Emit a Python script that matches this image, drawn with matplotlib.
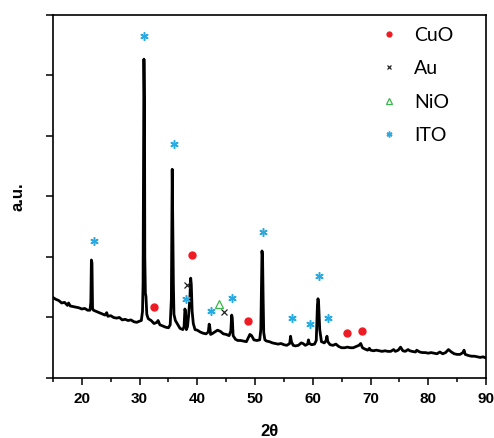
import matplotlib
matplotlib.use("Agg")
import matplotlib.pyplot as plt
from matplotlib.ticker import MultipleLocator

# XRD pattern (2theta in degrees, intensity in arbitrary units)
two_theta = [
    15.0, 15.5, 16.0, 16.5, 17.0, 17.5, 17.7, 18.0, 18.5, 19.0, 19.5, 20.0, 20.5, 21.0, 21.4,
    21.55, 21.65, 21.75, 21.85, 22.0, 22.5, 23.0, 23.5, 24.0, 24.3, 24.5, 25.0, 25.5, 26.0,
    26.5, 27.0, 27.5, 28.0, 28.5, 29.0, 29.5, 30.0, 30.3, 30.5, 30.6, 30.7, 30.75, 30.85,
    30.9, 31.0, 31.1, 31.25, 31.5, 32.0, 32.5, 33.0, 33.2, 33.5, 34.0, 34.5, 35.0, 35.3,
    35.5, 35.55, 35.65, 35.75, 35.85, 35.95, 36.2, 36.5, 37.0, 37.5, 37.7, 37.85, 37.95,
    38.1, 38.3, 38.5, 38.7, 38.85, 38.95, 39.1, 39.3, 39.6, 40.0, 40.5, 41.0, 41.5, 41.9,
    42.05, 42.15, 42.3, 42.7, 43.0, 43.5, 44.0, 44.5, 45.0, 45.5, 45.8, 45.95, 46.05, 46.2,
    46.6, 47.0, 47.5, 48.0, 48.5, 48.8, 49.1, 49.4, 49.8, 50.3, 50.8, 51.0, 51.1, 51.2,
    51.3, 51.4, 51.5, 51.7, 52.0, 52.5, 53.0, 53.5, 54.0, 54.5, 55.0, 55.5, 56.0, 56.15,
    56.3, 56.6, 57.0, 57.5, 58.0, 58.3, 58.7, 59.1, 59.25, 59.4, 59.8, 60.3, 60.6, 60.8,
    60.9, 61.0, 61.2, 61.5, 62.0, 62.3, 62.45, 62.6, 63.0, 63.5, 64.0, 64.5, 65.0, 65.5,
    66.0, 66.5, 67.0, 67.5, 68.0, 68.3, 68.6, 69.0, 69.5, 69.8, 70.0, 70.5, 71.0, 71.5,
    72.0, 72.5, 73.0, 73.5, 74.0, 74.3, 74.8, 75.2, 75.6, 76.0, 76.5, 76.8, 77.2, 77.8,
    78.0, 78.5, 79.0, 79.5, 80.0, 80.5, 81.0, 81.5, 82.0, 82.5, 83.0, 83.5, 84.0, 84.5,
    85.0, 85.5, 86.0, 86.2, 86.4, 87.0, 87.5, 88.0, 88.5, 89.0, 89.5, 90.0,
]
intensity = [
    1.33, 1.30, 1.28, 1.24, 1.25, 1.20, 1.24, 1.19, 1.18, 1.17, 1.16, 1.14, 1.15, 1.12, 1.12,
    1.25, 1.95, 1.90, 1.15, 1.12, 1.10, 1.08, 1.06, 1.04, 1.08, 1.02, 1.03, 1.00, 0.99,
    1.00, 0.96, 0.97, 0.95, 0.96, 0.93, 0.92, 0.94, 0.95, 1.10, 1.55, 4.00, 5.27, 4.50,
    2.00, 1.40, 1.35, 1.05, 0.98, 0.95, 0.90, 0.92, 0.95, 0.88, 0.86, 0.84, 0.83, 0.88,
    1.30, 2.00, 3.45, 2.40, 1.55, 1.05, 0.95, 0.90, 0.82, 0.80, 0.85, 1.14, 1.10,
    0.80, 0.85, 1.05, 1.30, 1.65, 1.55, 1.10, 0.90, 0.80, 0.79, 0.76, 0.74, 0.73, 0.76,
    0.89, 0.85, 0.72, 0.74, 0.76, 0.79, 0.77, 0.73, 0.72, 0.70, 0.78, 1.04, 1.00, 0.70,
    0.64, 0.62, 0.62, 0.61, 0.60, 0.66, 0.72, 0.70, 0.63, 0.62, 0.63, 0.80, 1.50, 2.10,
    2.00, 1.30, 0.75, 0.63, 0.61, 0.60, 0.58, 0.57, 0.56, 0.57, 0.55, 0.54, 0.57, 0.69,
    0.60, 0.54, 0.53, 0.54, 0.58, 0.57, 0.54, 0.56, 0.63, 0.57, 0.55, 0.56, 0.62, 1.20,
    1.31, 1.25, 0.80, 0.60, 0.58, 0.62, 0.69, 0.60, 0.55, 0.54, 0.56, 0.52, 0.50, 0.50,
    0.51, 0.50, 0.50, 0.52, 0.54, 0.57, 0.50, 0.48, 0.46, 0.49, 0.46, 0.45, 0.46, 0.45,
    0.44, 0.45, 0.44, 0.44, 0.47, 0.44, 0.46, 0.51, 0.45, 0.44, 0.47, 0.45, 0.44, 0.43,
    0.46, 0.43, 0.42, 0.42, 0.41, 0.42, 0.41, 0.40, 0.43, 0.40, 0.42, 0.47, 0.43, 0.40,
    0.39, 0.39, 0.42, 0.46, 0.39, 0.37, 0.36, 0.36, 0.35, 0.34, 0.35, 0.33,
]

# phase markers above the peaks
cuo_x = [32.5, 39.05, 48.85, 65.9, 68.6]
cuo_y = [1.18, 2.03, 0.95, 0.74, 0.77]
au_x = [38.2, 44.65]
au_y = [1.53, 1.09]
nio_x = [43.7]
nio_y = [1.23]
ito_x = [22.05, 30.8, 35.9, 38.0, 42.35, 46.05, 51.3, 56.35, 59.5, 61.1, 62.7]
ito_y = [2.27, 5.65, 3.86, 1.31, 1.10, 1.32, 2.41, 0.99, 0.90, 1.68, 0.99]

fig = plt.figure(figsize=(4.94, 4.38), dpi=100)
ax = fig.add_axes([0.1073, 0.137, 0.8765, 0.8288])

ax.plot(two_theta, intensity, color="black", lw=2.0, zorder=2)

ax.plot(cuo_x, cuo_y, "o", color="#ED1C24", ms=5, ls="none", label="CuO")
ax.plot(au_x, au_y, "x", color="#222222", ms=4.5, mew=0.9, ls="none", label="Au")
ax.plot(nio_x, nio_y, "^", mfc="none", mec="#39B54A", ms=5.5, mew=0.9, ls="none", label="NiO")
ax.plot(ito_x, ito_y, marker=(6, 2, 0), color="#29ABE2", ms=6, mew=1.1, ls="none", label="ITO")

ax.set_xlim(15, 90)
ax.set_ylim(0, 6)
ax.xaxis.set_major_locator(MultipleLocator(10))
ax.xaxis.set_minor_locator(MultipleLocator(5))
ax.yaxis.set_major_locator(MultipleLocator(1))
ax.set_yticklabels([])
ax.tick_params(axis="x", which="major", length=5, width=1.1, direction="out", pad=5)
ax.tick_params(axis="x", which="minor", length=3, width=1.1, direction="out")
ax.tick_params(axis="y", which="major", length=5, width=1.1, direction="out")
for lab in ax.get_xticklabels():
    lab.set_fontfamily("Liberation Sans")
    lab.set_fontweight("bold")
    lab.set_fontsize(11)
for sp in ax.spines.values():
    sp.set_linewidth(1.2)

ax.set_xlabel("2θ", fontsize=12, fontweight="bold", family="Liberation Sans", labelpad=13)
ax.set_ylabel("a.u.", fontsize=12, fontweight="bold", family="Liberation Sans", labelpad=11)

leg = ax.legend(loc="upper left", bbox_to_anchor=(0.753, 0.968), frameon=False,
                prop={"family": "Lato", "size": 14}, markerscale=0.7,
                handlelength=1.0, handletextpad=0.8, labelspacing=0.85, borderpad=0,
                borderaxespad=0)

fig.savefig("out.png", dpi=100)
